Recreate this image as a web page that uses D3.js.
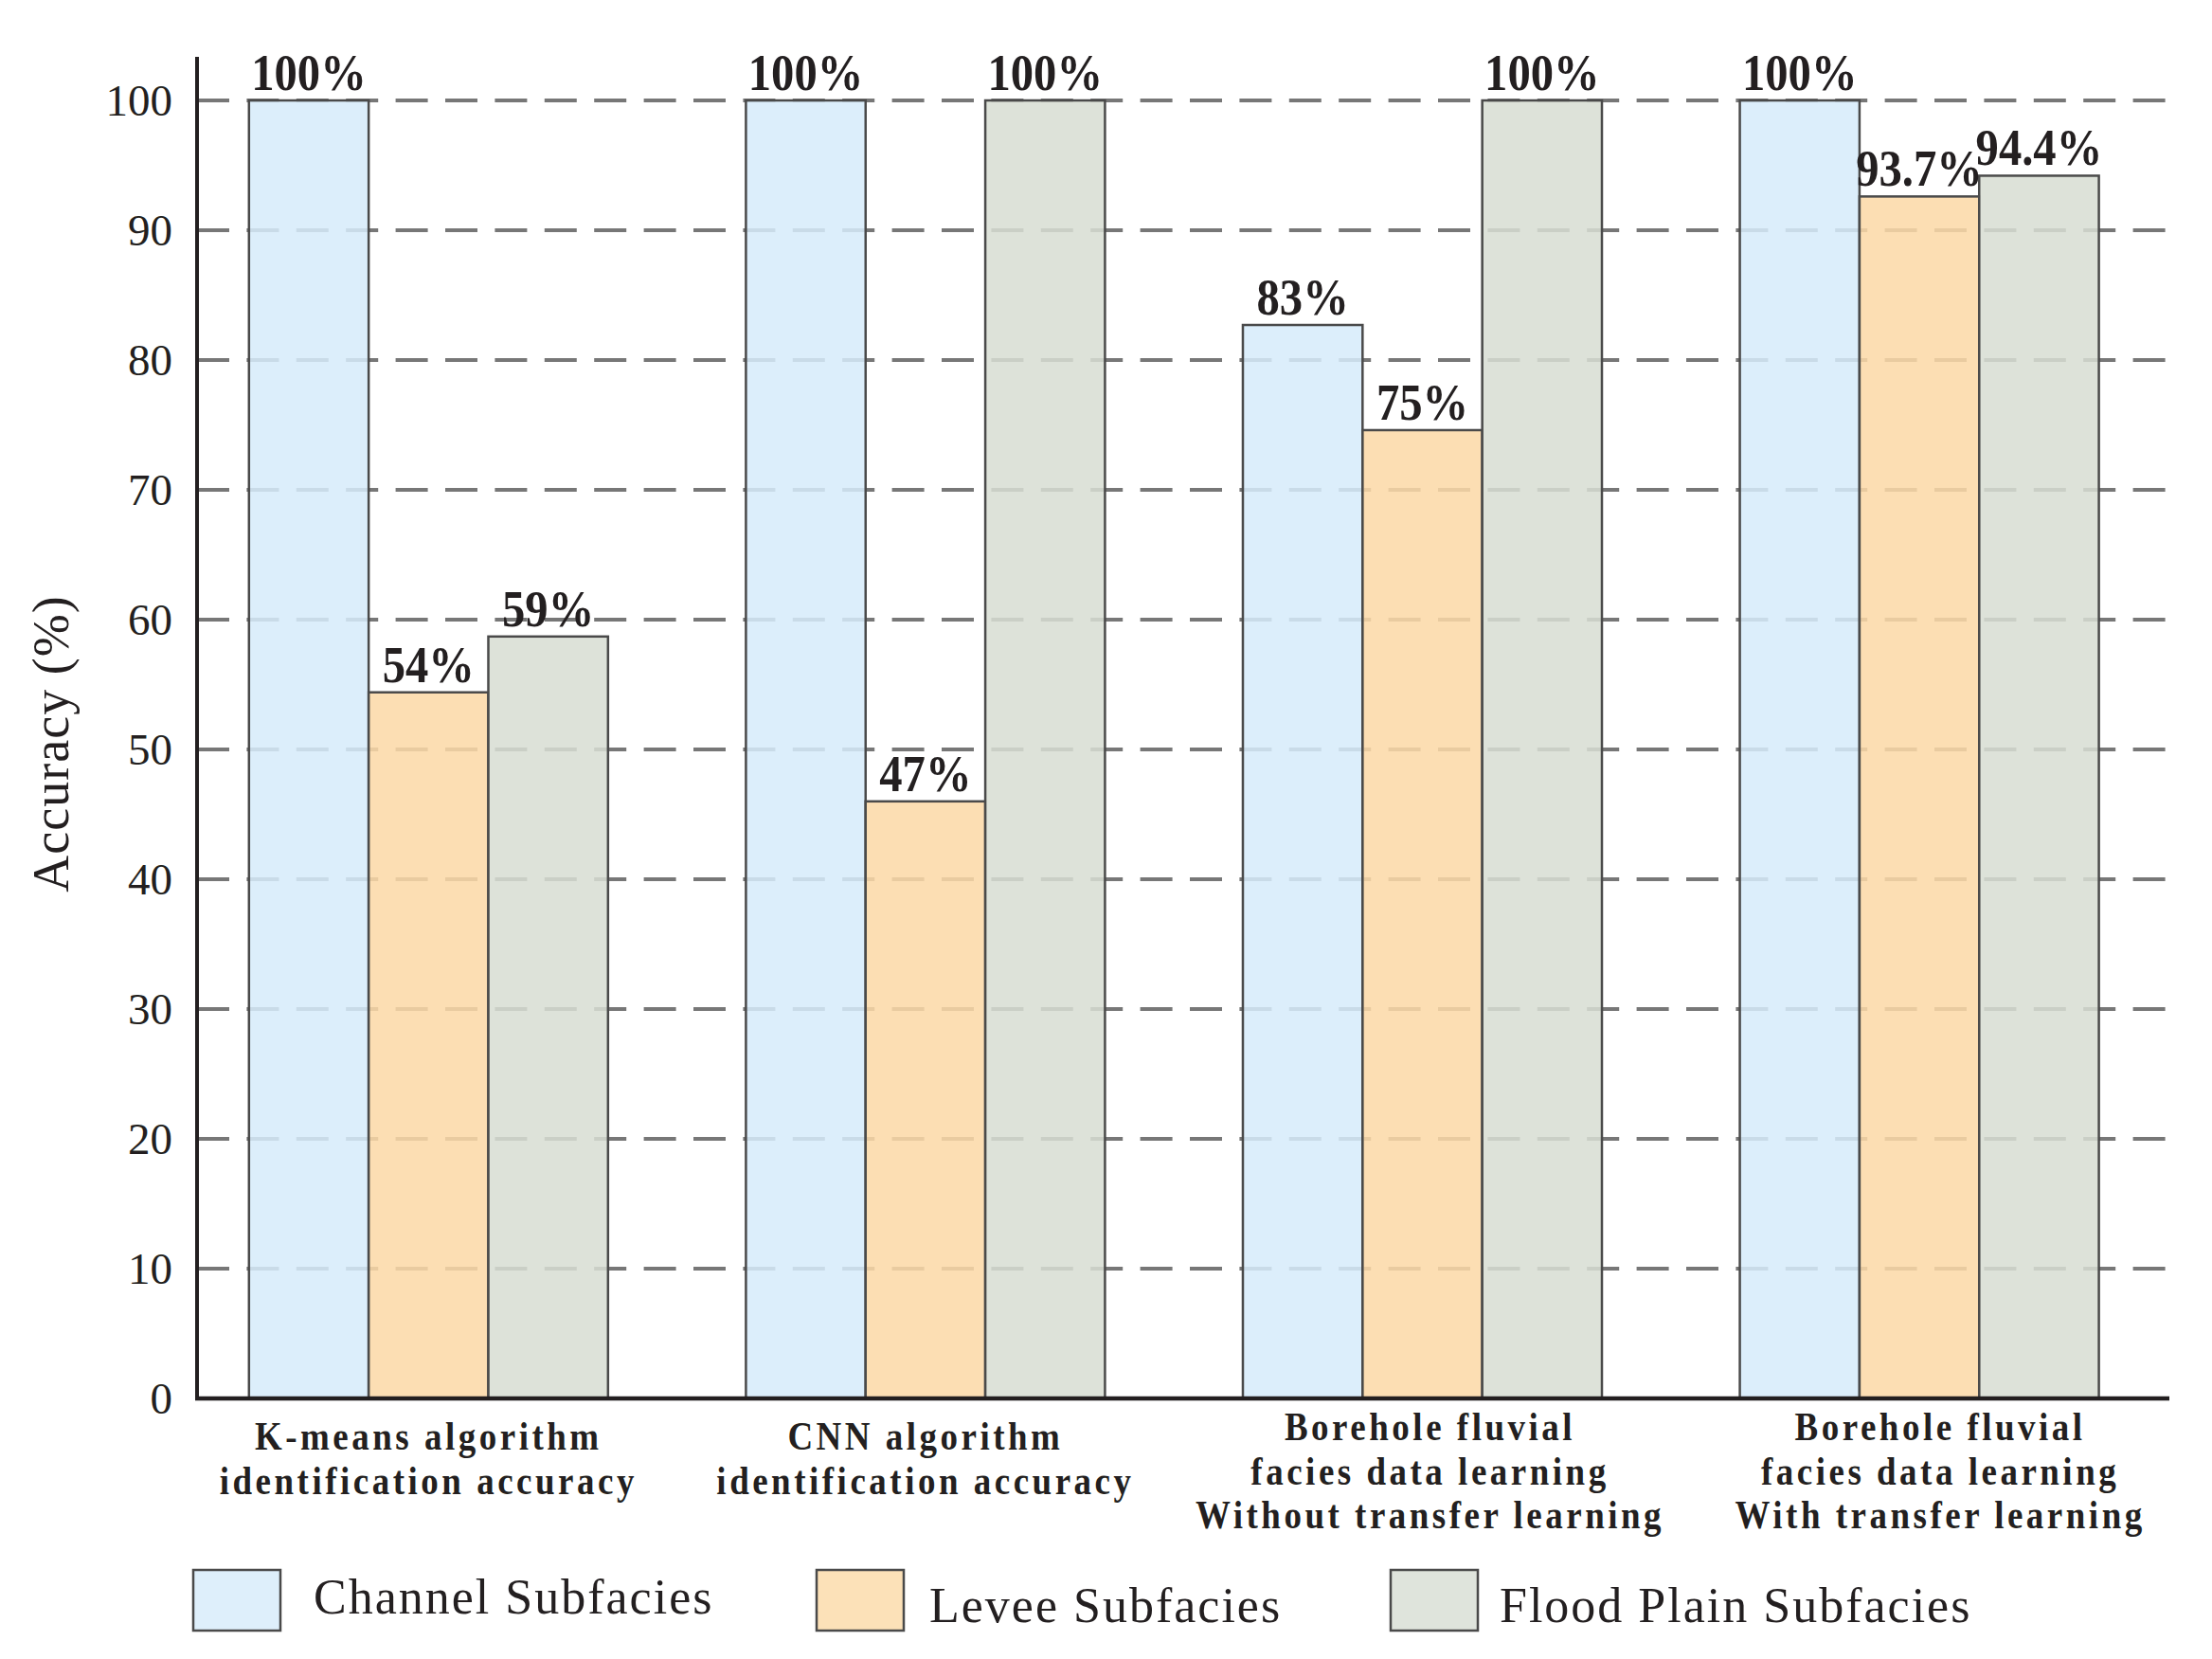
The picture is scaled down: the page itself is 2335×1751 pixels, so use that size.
<!DOCTYPE html>
<html>
<head>
<meta charset="utf-8">
<script src="https://cdn.jsdelivr.net/npm/d3@7"></script>
<style>
  html, body { margin: 0; padding: 0; background: #ffffff; }
  svg { display: block; }
</style>
</head>
<body>
<script>
// ---------- data ----------
const categories = [
  ["K-means algorithm", "identification accuracy"],
  ["CNN algorithm", "identification accuracy"],
  ["Borehole fluvial", "facies data learning", "Without transfer learning"],
  ["Borehole fluvial", "facies data learning", "With transfer learning"]
];
const seriesNames = ["Channel Subfacies", "Levee Subfacies", "Flood Plain Subfacies"];
const channelValues = [100, 100, 82.7, 100];
const leveeValues = [54.4, 46.0, 74.6, 92.6];
const floodValues = [58.7, 100, 100, 94.2];
const channelLabels = ["100%", "100%", "83%", "100%"];
const leveeLabels = ["54%", "47%", "75%", "93.7%"];
const floodLabels = ["59%", "100%", "100%", "94.4%"];
const yTicks = [0, 10, 20, 30, 40, 50, 60, 70, 80, 90, 100];
const seriesColors = ["#d6ebfa", "#fbd9a6", "#d7ddd3"];

// ---------- layout ----------
const W = 2335, H = 1751;
const textColor = "#231f20";
const serif = "'Liberation Serif', 'Times New Roman', 'DejaVu Serif', serif";
const catLabelShift = [0, 0, 8, 22];

const svg = d3.select("body").append("svg")
  .attr("width", W).attr("height", H)
  .attr("viewBox", `0 0 ${W} ${H}`);

const axisX0 = 208, axisX1 = 2290, axisTop = 60;
const y = d3.scaleLinear().domain([0, 100]).range([1476, 106]);

const x0 = d3.scaleBand()
  .domain(d3.range(categories.length))
  .range([190, 2288.4])
  .paddingInner(0.2775)
  .paddingOuter(0.1388);

const x1 = d3.scaleBand()
  .domain(d3.range(seriesNames.length))
  .range([0, x0.bandwidth()])
  .padding(0);

const seriesValues = [channelValues, leveeValues, floodValues];
const seriesLabels = [channelLabels, leveeLabels, floodLabels];

const rows = [];
categories.forEach((c, gi) => {
  seriesNames.forEach((s, si) => {
    rows.push({ g: gi, s: si, v: seriesValues[si][gi], label: seriesLabels[si][gi] });
  });
});

// ---------- gridlines ----------
const grid = svg.append("g");
grid.selectAll("line")
  .data(yTicks.filter(t => t > 0))
  .join("line")
  .attr("x1", axisX0).attr("x2", axisX1)
  .attr("y1", d => y(d)).attr("y2", d => y(d))
  .attr("stroke", "#777777")
  .attr("stroke-width", 4)
  .attr("stroke-dasharray", "34,18.4");

// ---------- bars ----------
const bars = svg.append("g");
bars.selectAll("rect")
  .data(rows)
  .join("rect")
  .attr("x", d => x0(d.g) + x1(d.s))
  .attr("y", d => y(d.v))
  .attr("width", x1.bandwidth())
  .attr("height", d => y(0) - y(d.v))
  .attr("fill", d => seriesColors[d.s])
  .attr("fill-opacity", 0.86)
  .attr("stroke", "#4a4a4a")
  .attr("stroke-width", 2.5);

// value labels
svg.append("g").selectAll("text")
  .data(rows)
  .join("text")
  .attr("transform", d => `translate(${x0(d.g) + x1(d.s) + x1.bandwidth() / 2},${y(d.v) - 11}) scale(0.9,1)`)
  .attr("text-anchor", "middle")
  .attr("font-family", serif)
  .attr("font-weight", "bold")
  .attr("font-size", 54)
  .attr("fill", textColor)
  .text(d => d.label);

// ---------- axes ----------
const yAxis = d3.axisLeft(y).tickValues(yTicks).tickSize(0).tickPadding(26).tickFormat(d3.format("d"));
const gy = svg.append("g").attr("transform", `translate(${axisX0},0)`).call(yAxis);
gy.select(".domain").remove();
gy.selectAll("text")
  .attr("font-family", serif)
  .attr("font-size", 47)
  .attr("fill", textColor);

svg.append("line")
  .attr("x1", axisX0).attr("x2", axisX0)
  .attr("y1", axisTop).attr("y2", y(0) + 2)
  .attr("stroke", textColor).attr("stroke-width", 4);
svg.append("line")
  .attr("x1", axisX0 - 2).attr("x2", axisX1)
  .attr("y1", y(0)).attr("y2", y(0))
  .attr("stroke", textColor).attr("stroke-width", 4.5);

// y axis title
svg.append("text")
  .attr("transform", `translate(72,785) rotate(-90)`)
  .attr("text-anchor", "middle")
  .attr("font-family", serif)
  .attr("font-size", 54)
  .attr("letter-spacing", 1)
  .attr("fill", textColor)
  .text("Accuracy (%)");

// category labels
const catG = svg.append("g");
categories.forEach((lines, gi) => {
  const cx = x0(gi) + x0.bandwidth() / 2 + catLabelShift[gi];
  const base = lines.length === 3 ? 1520 : 1530;
  lines.forEach((ln, li) => {
    catG.append("text")
      .attr("transform", `translate(${cx},${base + li * 46.5}) scale(0.88,1)`)
      .attr("text-anchor", "middle")
      .attr("font-family", serif)
      .attr("font-weight", "bold")
      .attr("font-size", 42)
      .attr("letter-spacing", 4)
      .attr("fill", textColor)
      .text(ln);
  });
});

// ---------- legend ----------
const legendItems = [
  { x: 204, tx: 331, ty: 1703 },
  { x: 862, tx: 981, ty: 1712 },
  { x: 1468, tx: 1583, ty: 1712 }
];
const lg = svg.append("g");
seriesNames.forEach((name, i) => {
  const p = legendItems[i];
  lg.append("rect")
    .attr("x", p.x).attr("y", 1657)
    .attr("width", 92).attr("height", 64)
    .attr("fill", seriesColors[i])
    .attr("fill-opacity", 0.8)
    .attr("stroke", "#4a4a4a")
    .attr("stroke-width", 2.5);
  lg.append("text")
    .attr("x", p.tx).attr("y", p.ty)
    .attr("font-family", serif)
    .attr("font-size", 52)
    .attr("letter-spacing", 2)
    .attr("fill", textColor)
    .text(name);
});
</script>
</body>
</html>
